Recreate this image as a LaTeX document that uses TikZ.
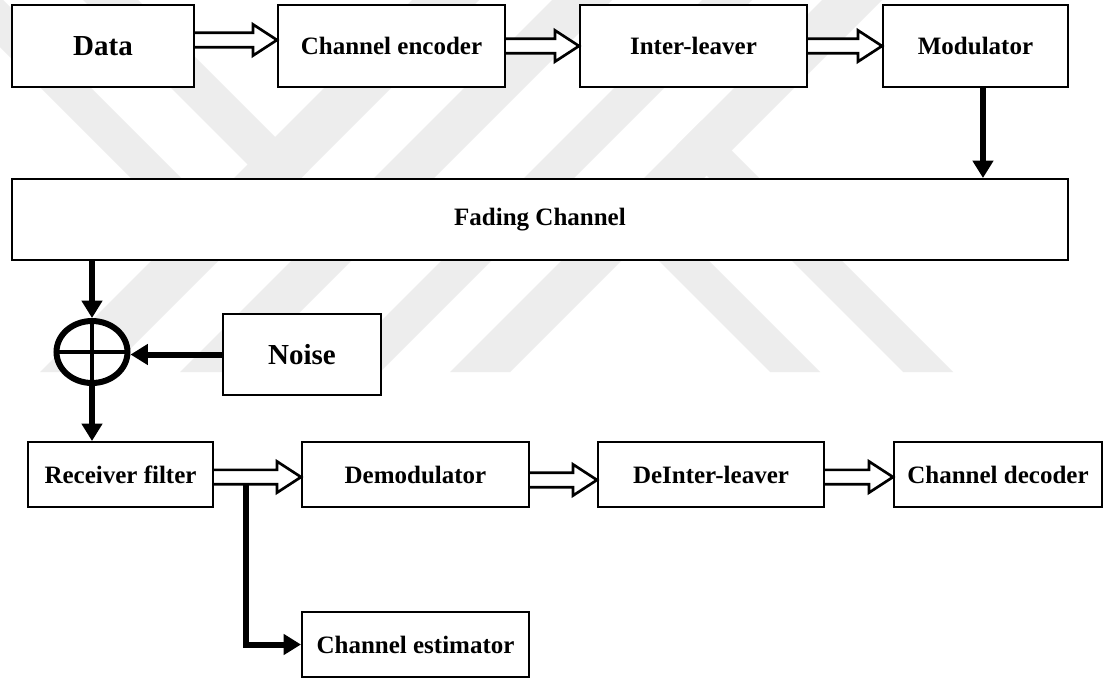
\documentclass[tikz,border=0pt]{standalone}
\usepackage{fontspec}
\setmainfont{Liberation Serif}
\usetikzlibrary{arrows.meta,shapes.geometric,calc}

% open block arrow between two boxes: #1 source node, #2 target node, #3 vertical shift
\newcommand\blockarrow[3]{%
  \coordinate (ba-s) at ([yshift=#3]#1.east);
  \coordinate (ba-e) at (ba-s -| #2.west);
  \draw[hollow] ([yshift=5.4pt]ba-s)
    -- ([xshift=-18pt,yshift=5.4pt]ba-e)
    -- ([xshift=-18pt,yshift=11.7pt]ba-e)
    -- (ba-e)
    -- ([xshift=-18pt,yshift=-11.7pt]ba-e)
    -- ([xshift=-18pt,yshift=-5.4pt]ba-e)
    -- ([yshift=-5.4pt]ba-s);
}

\begin{document}
\begin{tikzpicture}[x=0.75pt,y=-0.75pt,
  box/.style={draw, line width=1.5pt, fill=white, inner sep=0pt,
    font=\fontsize{18.75pt}{22pt}\selectfont\bfseries, minimum height=61.5pt},
  bigtext/.style={font=\fontsize{21.75pt}{26pt}\selectfont\bfseries},
  hollow/.style={draw, line width=2pt, fill=white, line join=miter},
  flow/.style={line width=4.5pt, -{Triangle[length=13pt,width=15pt]}},
  sumnode/.style={ellipse, draw, fill=white, line width=4.5pt, inner sep=0pt,
    minimum width=53.25pt, minimum height=46.5pt},
  band/.style={fill=black!7}
]
\useasboundingbox (0,0) rectangle (1105,678);
\fill[white] (0,0) rectangle (1105,678);

% faint striped emblem in the background
\begin{scope}
  \clip (0,0) rectangle (1105,678);
  \fill[band] (412,0) -- (479,0) -- (107,372) -- (40,372) -- cycle;
  \fill[band] (552,0) -- (612,0) -- (240,372) -- (180,372) -- cycle;
  \fill[band] (702,0) -- (752,0) -- (380,372) -- (330,372) -- cycle;
  \fill[band] (822,0) -- (882,0) -- (510,372) -- (450,372) -- cycle;
  \fill[band] (610,212) -- (635,187) -- (820,372) -- (770,372) -- cycle;
  \fill[band] (676.5,145.5) -- (701.5,120.5) -- (953,372) -- (903,372) -- cycle;
  \fill[band] (83,0) -- (138,0) -- (308.5,170.5) -- (281,198) -- cycle;
  \fill[band] (-47,0) -- (3,0) -- (241,238) -- (216,263) -- cycle;
\end{scope}

% transmitter chain
\node[box, bigtext, minimum width=136.5pt] (data) at (103,46) {Data};
\node[box, minimum width=170.25pt] (enc) at (391.5,46) {Channel encoder};
\node[box, minimum width=170.25pt] (inter) at (693.5,46) {Inter-leaver};
\node[box, minimum width=138.75pt] (mod) at (975.5,46) {Modulator};

% channel
\node[box, minimum width=792pt, minimum height=60.75pt] (fade) at (540,219.5) {Fading Channel};
\node[box, bigtext, minimum width=118.5pt, minimum height=60.75pt] (noise) at (302,354.5) {Noise};
\node[sumnode] (sum) at (92,352) {};
\draw[line width=3pt, shorten <=2.25pt, shorten >=2.25pt] (sum.north) -- (sum.south);
\draw[line width=3pt, shorten <=2.25pt, shorten >=2.25pt] (sum.west) -- (sum.east);

% receiver chain
\node[box, minimum width=138.75pt, minimum height=48.75pt] (recv) at (120.5,474.5) {Receiver filter};
\node[box, minimum width=170.25pt, minimum height=48.75pt] (demod) at (415.5,474.5) {Demodulator};
\node[box, minimum width=169.5pt, minimum height=48.75pt] (deint) at (711,474.5) {DeInter-leaver};
\node[box, minimum width=156pt, minimum height=48.75pt] (dec) at (998,474.5) {Channel decoder};
\node[box, minimum width=170.25pt, minimum height=48.75pt] (est) at (415.5,644.5) {Channel estimator};

% block arrows
\blockarrow{data}{enc}{4.5pt}
\blockarrow{enc}{inter}{0pt}
\blockarrow{inter}{mod}{0pt}
\blockarrow{recv}{demod}{-1.9pt}
\blockarrow{demod}{deint}{-4.1pt}
\blockarrow{deint}{dec}{-1.9pt}

% signal arrows
\draw[flow] ([xshift=5.6pt]mod.south) -- ([xshift=5.6pt]mod.south |- fade.north);
\draw[flow] (sum.north |- fade.south) -- (sum.north);
\draw[flow] (noise.west) -- (noise.west -| sum.east);
\draw[flow] (sum.south) -- (sum.south |- recv.north);
\coordinate (tap) at ([xshift=24pt,yshift=-7.9pt]recv.east);
\draw[flow] (tap) |- (est.west);
\end{tikzpicture}
\end{document}
